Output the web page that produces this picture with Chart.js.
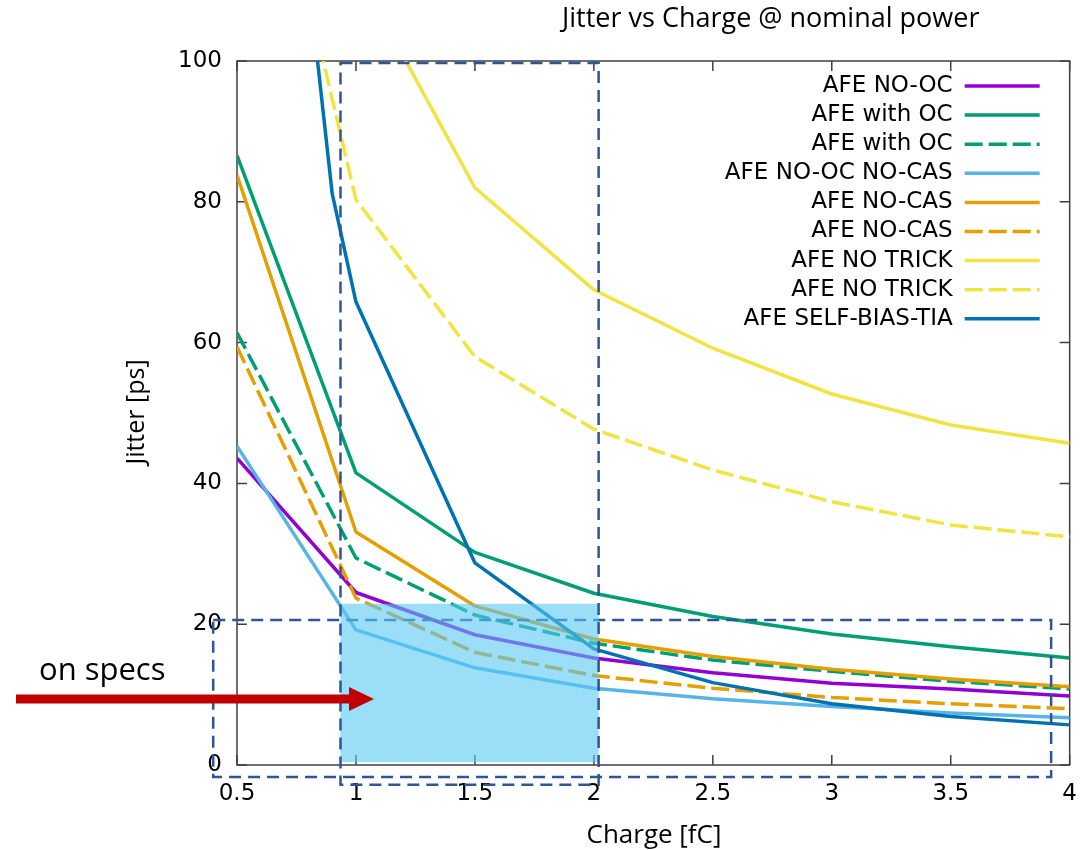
<!DOCTYPE html>
<html>
<head>
<meta charset="utf-8">
<title>Jitter vs Charge</title>
<script src="https://cdn.jsdelivr.net/npm/chart.js@4.4.1/dist/chart.umd.min.js"></script>
<style>
  body { margin: 0; background: #fff; }
  #wrap { width: 1092px; height: 850px; position: relative; }
</style>
</head>
<body>
<div id="wrap"><canvas id="jitterChart"></canvas></div>
<script>
// charge points [fC]
const charge = [0.5, 1, 1.5, 2, 2.5, 3, 3.5, 4];
const selfBiasCharge = [0.8, 0.9, 1, 1.5, 2, 2.5, 3, 3.5, 4];

// jitter [ps]
const noOc = [43.6, 24.5, 18.5, 15.2, 13.1, 11.6, 10.8, 9.8];
const withOc = [86.6, 41.5, 30.2, 24.4, 21.1, 18.6, 16.8, 15.2];
const withOcDash = [61.4, 29.4, 21.3, 17.3, 14.9, 13.3, 11.9, 10.8];
const noOcNoCas = [45.3, 19.2, 13.8, 10.9, 9.4, 8.3, 7.4, 6.7];
const noCas = [83.8, 33.1, 22.6, 17.9, 15.4, 13.6, 12.2, 11.1];
const noCasDash = [59.4, 23.7, 16.0, 12.7, 10.9, 9.6, 8.7, 8.0];
const noTrick = [null, 113, 82, 67.5, 59.2, 52.7, 48.3, 45.7];
const noTrickDash = [152, 80.3, 58.0, 47.7, 41.9, 37.4, 34.1, 32.4];
const selfBias = [111.8, 81.2, 65.8, 28.7, 16.5, 11.7, 8.7, 6.9, 5.7];

const xTickValues = [0.5, 1, 1.5, 2, 2.5, 3, 3.5, 4];
const yTickValues = [0, 20, 40, 60, 80, 100];

const DASH = [18, 6];

function pts(xs, ys) {
    return xs.map((x, i) => ({ x: x, y: ys[i] }));
}

function series(label, xs, ys, color, dashed) {
    return {
        label: label,
        data: pts(xs, ys),
        borderColor: color,
        backgroundColor: color,
        borderWidth: 3.5,
        borderDash: dashed ? DASH : [],
        borderJoinStyle: 'round',
        pointRadius: 0,
        tension: 0,
        fill: false
    };
}

const datasets = [
    series('AFE NO-OC', charge, noOc, '#9400d3', false),
    series('AFE with OC', charge, withOc, '#009e73', false),
    series('AFE with OC', charge, withOcDash, '#009e73', true),
    series('AFE NO-OC NO-CAS', charge, noOcNoCas, '#56b4e9', false),
    series('AFE NO-CAS', charge, noCas, '#e69f00', false),
    series('AFE NO-CAS', charge, noCasDash, '#e69f00', true),
    series('AFE NO TRICK', charge, noTrick, '#f0e442', false),
    series('AFE NO TRICK', charge, noTrickDash, '#f0e442', true),
    series('AFE SELF-BIAS-TIA', selfBiasCharge, selfBias, '#0072b2', false)
];
// gnuplot draws later curves on top
datasets.forEach((ds, i) => ds.order = -i);

// frame with inward ticks on all sides, like gnuplot
const frame = {
    id: 'frame',
    beforeDatasetsDraw(chart) {
        const { ctx, chartArea: a, scales: { x, y } } = chart;
        ctx.save();
        ctx.strokeStyle = '#404040';
        ctx.lineWidth = 1.5;
        ctx.strokeRect(a.left, a.top, a.right - a.left, a.bottom - a.top);
        ctx.beginPath();
        xTickValues.forEach(v => {
            const px = x.getPixelForValue(v);
            ctx.moveTo(px, a.bottom); ctx.lineTo(px, a.bottom - 10);
            ctx.moveTo(px, a.top); ctx.lineTo(px, a.top + 10);
        });
        yTickValues.forEach(v => {
            const py = y.getPixelForValue(v);
            ctx.moveTo(a.left, py); ctx.lineTo(a.left + 10, py);
            ctx.moveTo(a.right, py); ctx.lineTo(a.right - 10, py);
        });
        ctx.stroke();
        ctx.restore();
    }
};

// boxes, arrow and notes put on top of the plot
const notes = {
    id: 'notes',
    afterDatasetsDraw(chart) {
        const { ctx, scales: { x, y } } = chart;
        const box = (x0, x1, y0, y1) => {
            const l = x.getPixelForValue(x0), r = x.getPixelForValue(x1);
            const t = y.getPixelForValue(y1), b = y.getPixelForValue(y0);
            ctx.strokeRect(l, t, r - l, b - t);
        };
        ctx.save();
        ctx.strokeStyle = '#2f5597';
        ctx.lineWidth = 2.5;
        ctx.setLineDash([12, 7]);
        box(0.4, 3.922, -1.7, 20.6);

        // "on specs" region
        const fl = x.getPixelForValue(0.935), fr = x.getPixelForValue(2.02);
        const ft = y.getPixelForValue(22.9), fb = y.getPixelForValue(0.4);
        ctx.fillStyle = 'rgba(86, 200, 243, 0.6)';
        ctx.fillRect(fl, ft, fr - fl, fb - ft);

        box(0.935, 2.02, -2.8, 99.7);
        ctx.setLineDash([]);

        // red arrow
        const ay = 699;
        ctx.fillStyle = '#c00000';
        ctx.fillRect(16, ay - 4.5, 335, 9);
        ctx.beginPath();
        ctx.moveTo(349, ay - 12);
        ctx.lineTo(374, ay);
        ctx.lineTo(349, ay + 12);
        ctx.closePath();
        ctx.fill();

        ctx.fillStyle = '#000';
        ctx.font = '31px "Open Sans"';
        ctx.textAlign = 'left';
        ctx.textBaseline = 'alphabetic';
        ctx.fillText('on specs', 39, 680);
        ctx.restore();
    }
};

// titles and legend
const texts = {
    id: 'texts',
    afterDraw(chart) {
        const { ctx, chartArea: a } = chart;
        ctx.save();
        ctx.fillStyle = '#000';
        ctx.font = '27px "Open Sans"';
        ctx.textAlign = 'left';
        ctx.textBaseline = 'alphabetic';
        ctx.fillText('Jitter vs Charge @ nominal power', 562, 27);

        ctx.font = '26px "Open Sans"';
        ctx.textAlign = 'center';
        ctx.fillText('Charge [fC]', 654, 843);
        ctx.font = '25px "Open Sans"';
        ctx.translate(144, 412);
        ctx.rotate(-Math.PI / 2);
        ctx.fillText('Jitter [ps]', 0, 0);
        ctx.restore();

        ctx.save();
        ctx.font = '23px "DejaVu Sans"';
        ctx.textAlign = 'right';
        ctx.textBaseline = 'middle';
        chart.data.datasets.forEach((ds, i) => {
            const ly = 86 + i * 29.1;
            ctx.fillStyle = '#000';
            ctx.fillText(ds.label, a.right - 117, ly);
            ctx.strokeStyle = ds.borderColor;
            ctx.lineWidth = 3.5;
            ctx.setLineDash(ds.borderDash);
            ctx.beginPath();
            ctx.moveTo(a.right - 105, ly);
            ctx.lineTo(a.right - 30, ly);
            ctx.stroke();
        });
        ctx.restore();
    }
};

const ctx = document.getElementById('jitterChart').getContext('2d');

new Chart(ctx, {
    type: 'line',
    data: { datasets: datasets },
    options: {
        responsive: true,
        maintainAspectRatio: false,
        animation: false,
        layout: { padding: { top: 61, right: 19, left: 0, bottom: 0 } },
        scales: {
            x: {
                type: 'linear',
                min: 0.5,
                max: 4,
                afterBuildTicks: scale => { scale.ticks = xTickValues.map(v => ({ value: v })); },
                afterFit: scale => { scale.height = 85; },
                grid: { display: false, drawTicks: false },
                border: { display: false },
                ticks: {
                    padding: 15,
                    color: '#000',
                    font: { family: 'DejaVu Sans', size: 23 },
                    callback: v => String(v)
                }
            },
            y: {
                min: 0,
                max: 100,
                afterBuildTicks: scale => { scale.ticks = yTickValues.map(v => ({ value: v })); },
                afterFit: scale => { scale.width = 237; },
                grid: { display: false, drawTicks: false },
                border: { display: false },
                ticks: {
                    padding: 15,
                    color: '#000',
                    font: { family: 'DejaVu Sans', size: 23 },
                    callback: v => String(v)
                }
            }
        },
        plugins: {
            legend: { display: false },
            tooltip: { enabled: false }
        }
    },
    plugins: [frame, notes, texts]
});
</script>
</body>
</html>
